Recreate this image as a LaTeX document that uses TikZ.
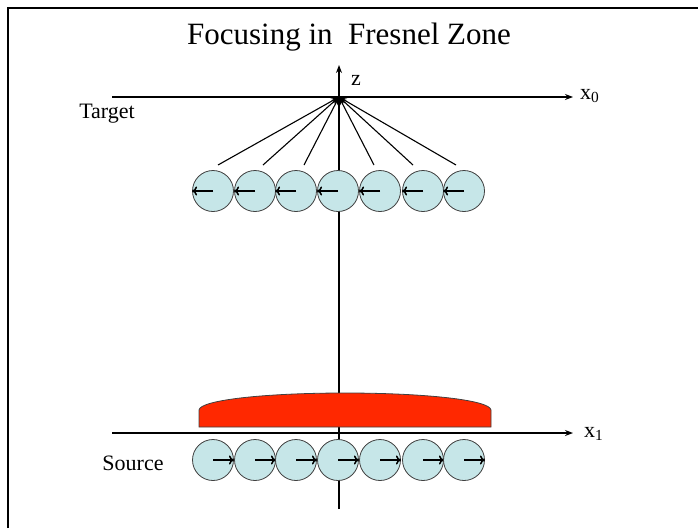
\documentclass[tikz,border=0pt]{standalone}
\usepackage{fontspec}
\setmainfont{Liberation Serif}
\usetikzlibrary{arrows.meta}
\definecolor{cellblue}{HTML}{C6E6E8}
\definecolor{lensred}{HTML}{FF2800}
\tikzset{
    axis/.style={-{Stealth[length=8pt,width=6pt]}, line width=1.2pt},
    cell/.style={circle, draw=black!75, line width=0.8pt, fill=cellblue, minimum size=41pt, inner sep=0pt},
    ray/.style={-{Stealth[length=8pt,width=5pt]}, line width=1.1pt},
    pol/.style={-{To[length=5pt,width=9pt]}, line width=1.5pt},
    lbl/.style={font=\fontsize{22}{24}\selectfont, inner sep=0pt}
}
\begin{document}
\begin{tikzpicture}[x=1pt,y=-1pt]
        \useasboundingbox (0,0) rectangle (698,528);
        \draw[line width=2pt] (7.5,528) -- (7.5,8) -- (698,8);
        \node[font=\fontsize{31}{33}\selectfont] (title) at (349,37) {Focusing in\ \ Fresnel Zone};
        % axes
        \coordinate (f) at (339,97);
        \draw[axis] (339,509) -- (339,65);
        \draw[axis] (112,97) -- (573,97);
        \draw[axis] (112,433) -- (573,433);
        \node[lbl, anchor=west] (z) at (351,80) {z};
        \node[lbl, anchor=west] (x0) at (580,96) {x\textsubscript{0}};
        \node[lbl, anchor=west] (x1) at (584,434) {x\textsubscript{1}};
        \node[lbl] (target) at (107,114) {Target};
        \node[lbl] (source) at (133,463) {Source};
        % lens
        \draw[fill=lensred, draw=black!75, line width=0.8pt] (199,427) -- (199,410)
            .. controls (200,400) and (265,393) .. (345,393)
            .. controls (425,393) and (490,400) .. (491,410) -- (491,427) -- cycle;
        % elements
        \foreach \i/\x in {1/213,2/255,3/296,4/338,5/380,6/423,7/464}{
            \node[cell] (t\i) at (\x,191) {};
            \draw[pol] (t\i.center) -- (t\i.west);
            \node[cell] (s\i) at (\x,460) {};
            \draw[pol] (s\i.center) -- (s\i.east);
            };
        % rays to focus
        \foreach \x in {218,263,304,374,413,456}{
            \draw[ray] (\x,165) -- (f);
            };
    \end{tikzpicture}
\end{document}
